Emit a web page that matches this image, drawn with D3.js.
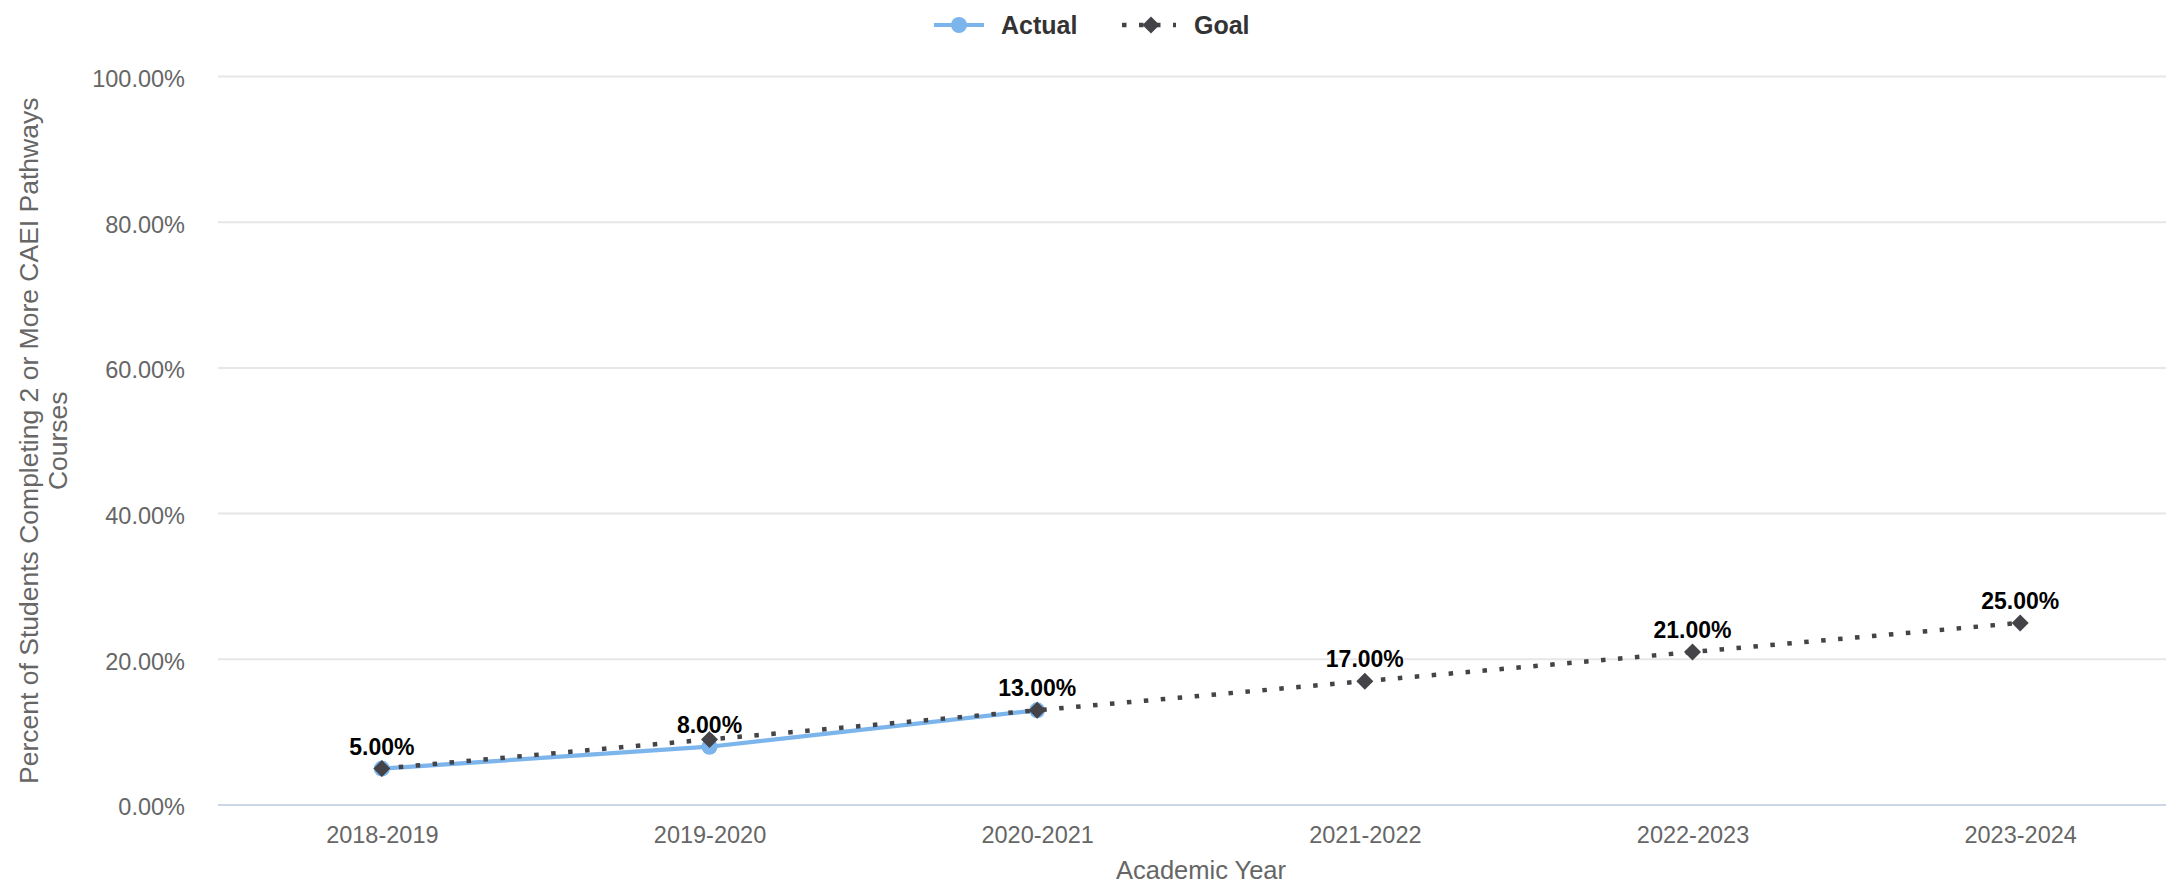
<!DOCTYPE html>
<meta charset="utf-8">
<head>
<style>
html, body {margin:0px; padding:0px; background:#fff;}
svg text {font-family: "Liberation Sans", Arial, sans-serif;}
</style>
</head>
<script src="https://d3js.org/d3.v7.min.js"></script>
<div id="chart"></div>
<script>

// data
var years = ["2018-2019", "2019-2020", "2020-2021", "2021-2022", "2022-2023", "2023-2024"]
var actual = [5, 8, 13]
var goal = [5, 9, 13, 17, 21, 25]
var yTicks = [0, 20, 40, 60, 80, 100]
var seriesNames = ["Actual", "Goal"]

var W = 2166, H = 887
var plot = {left: 218, right: 2184, top: 76.5, bottom: 805}

var svg = d3.select("#chart").append("svg")
  .attr("width", W)
  .attr("height", H)

var x = d3.scalePoint()
  .domain(years)
  .range([plot.left, plot.right])
  .padding(0.5)

var y = d3.scaleLinear()
  .domain([0, 100])
  .range([plot.bottom, plot.top])

// grid lines
svg.append("g")
  .selectAll("line")
  .data(yTicks.filter(function(d){ return d > 0 }))
  .enter().append("line")
    .attr("x1", plot.left).attr("x2", plot.right)
    .attr("y1", function(d){ return y(d) }).attr("y2", function(d){ return y(d) })
    .style("stroke", "#e6e6e6")
    .style("stroke-width", 2)

// y axis labels
var yAxis = svg.append("g")
  .attr("transform", "translate(" + (plot.left - 33) + ",0)")
  .call(d3.axisLeft(y).tickValues(yTicks).tickSize(0).tickPadding(0)
        .tickFormat(function(d){ return d.toFixed(2) + "%" }))
yAxis.select(".domain").remove()
yAxis.selectAll("text")
  .style("font-size", "23.5px")
  .style("fill", "#666666")
  .attr("dy", "0.72em")
  .attr("y", -7)

// x axis line + labels
svg.append("line")
  .attr("x1", plot.left).attr("x2", plot.right)
  .attr("y1", plot.bottom).attr("y2", plot.bottom)
  .style("stroke", "#ccd6eb")
  .style("stroke-width", 2)

var xAxis = svg.append("g")
  .attr("transform", "translate(0," + plot.bottom + ")")
  .call(d3.axisBottom(x).tickSize(0).tickPadding(0))
xAxis.select(".domain").remove()
xAxis.selectAll("text")
  .style("font-size", "23.5px")
  .style("fill", "#666666")
  .attr("dy", 0)
  .attr("y", 38)

// axis titles
svg.append("text")
  .attr("x", (plot.left + plot.right) / 2)
  .attr("y", 879)
  .attr("text-anchor", "middle")
  .style("font-size", "25.5px")
  .style("fill", "#666666")
  .text("Academic Year")

var yTitle = svg.append("text")
  .attr("transform", "translate(0," + ((plot.top + plot.bottom) / 2) + ") rotate(-90)")
  .attr("text-anchor", "middle")
  .style("font-size", "26.5px")
  .style("fill", "#666666")
yTitle.append("tspan").attr("x", 0).attr("y", 38).text("Percent of Students Completing 2 or More CAEI Pathways")
yTitle.append("tspan").attr("x", 0).attr("y", 67).text("Courses")

// lines
var actualPts = actual.map(function(v, i){ return {year: years[i], value: v} })
var goalPts = goal.map(function(v, i){ return {year: years[i], value: v} })

var line = d3.line()
  .x(function(d){ return x(d.year) })
  .y(function(d){ return y(d.value) })

var diamond = function(cx, cy, r) {
  return "M" + cx + "," + (cy - r) + "L" + (cx + r) + "," + cy + "L" + cx + "," + (cy + r) + "L" + (cx - r) + "," + cy + "Z"
}

svg.append("path")
  .datum(actualPts)
  .attr("d", line)
  .style("fill", "none")
  .style("stroke", "#7cb5ec")
  .style("stroke-width", 4.2)

svg.selectAll(".actualDot")
  .data(actualPts)
  .enter().append("circle")
    .attr("cx", function(d){ return x(d.year) })
    .attr("cy", function(d){ return y(d.value) })
    .attr("r", 8)
    .style("fill", "#7cb5ec")

svg.append("path")
  .datum(goalPts)
  .attr("d", line)
  .style("fill", "none")
  .style("stroke", "#434348")
  .style("stroke-width", 4.5)
  .style("stroke-dasharray", "4.5,12.5")

svg.selectAll(".goalDot")
  .data(goalPts)
  .enter().append("path")
    .attr("d", function(d){ return diamond(x(d.year), y(d.value), 8.5) })
    .style("fill", "#434348")

// data labels: the goal label is hidden where it collides with the actual one
var labelPts = goalPts.map(function(d, i){ return i < actual.length ? actualPts[i] : d })
svg.selectAll(".lbl")
  .data(labelPts)
  .enter().append("text")
    .attr("x", function(d){ return x(d.year) })
    .attr("y", function(d){ return y(d.value) - 14 })
    .attr("text-anchor", "middle")
    .style("font-size", "23px")
    .style("font-weight", "bold")
    .style("fill", "#000")
    .style("stroke", "#fff")
    .style("stroke-width", 2)
    .style("paint-order", "stroke")
    .text(function(d){ return d.value.toFixed(2) + "%" })

// legend
var legend = svg.append("g").attr("transform", "translate(0,25)")
legend.append("line")
  .attr("x1", 934).attr("x2", 984).attr("y1", 0).attr("y2", 0)
  .style("stroke", "#7cb5ec").style("stroke-width", 4.2)
legend.append("circle").attr("cx", 959).attr("cy", 0).attr("r", 8).style("fill", "#7cb5ec")
legend.append("text").attr("x", 1001).attr("y", 9)
  .style("font-size", "25px").style("font-weight", "bold").style("fill", "#333333")
  .text(seriesNames[0])
legend.append("line")
  .attr("x1", 1122).attr("x2", 1176).attr("y1", 0).attr("y2", 0)
  .style("stroke", "#434348").style("stroke-width", 4.5)
  .style("stroke-dasharray", "4.5,12.5")
legend.append("path").attr("d", diamond(1151, 0, 8.5)).style("fill", "#434348")
legend.append("text").attr("x", 1194).attr("y", 9)
  .style("font-size", "25px").style("font-weight", "bold").style("fill", "#333333")
  .text(seriesNames[1])

</script>
</html>
